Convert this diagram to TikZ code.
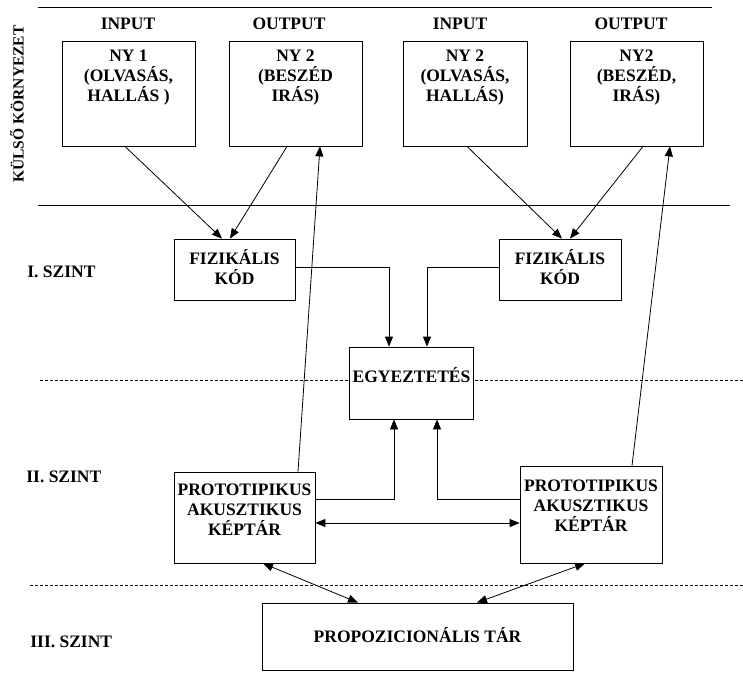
\documentclass[tikz,border=0pt]{standalone}
\usepackage{fontspec}
\setmainfont{Liberation Serif}
\usetikzlibrary{arrows.meta}
\begin{document}
\begin{tikzpicture}[x=1pt,y=-1pt,line width=0.8pt,
  box/.style={draw,fill=white,inner sep=0pt},
  txt/.style={font=\fontsize{17.5}{20}\selectfont\bfseries,align=center,inner sep=0pt},
  arr/.style={-{Triangle[length=10pt,width=8pt]}},
  darr/.style={{Triangle[length=10pt,width=8pt]}-{Triangle[length=10pt,width=8pt]}},
  lvl/.style={dash pattern=on 3pt off 2pt}]
\useasboundingbox (0,0) rectangle (743,672);

% level lines
\draw (38,7) -- (712,7);
\draw (38,205) -- (730,205);
\draw[lvl] (40,380) -- (743,380);
\draw[lvl] (30,585) -- (743,585);

% side labels
\node[txt, font=\fontsize{15.5}{18}\selectfont\bfseries, rotate=90] (kulso) at (17,104) {KÜLSŐ KÖRNYEZET};
\node[txt, anchor=west] (sz1) at (27,272) {I. SZINT};
\node[txt, anchor=west] (sz2) at (26,477) {II. SZINT};
\node[txt, anchor=west] (sz3) at (30,642) {III. SZINT};

\node[txt] (in1) at (128,24) {INPUT};
\node[txt] (out1) at (289,24) {OUTPUT};
\node[txt] (in2) at (460,24) {INPUT};
\node[txt] (out2) at (631,24) {OUTPUT};

% boxes
\node[box, minimum width=133, minimum height=105] (ny1) at (128.5,93.5) {};
\node[box, minimum width=133, minimum height=105] (ny2L) at (295.5,93.5) {};
\node[box, minimum width=124, minimum height=105] (ny2a) at (465,93.5) {};
\node[box, minimum width=133, minimum height=105] (ny2R) at (636.5,93.5) {};

\node[box, minimum width=121, minimum height=61] (fizL) at (234.5,269.5) {};
\node[box, minimum width=122, minimum height=61] (fizR) at (560,269.5) {};

\node[box, minimum width=124, minimum height=72] (egy) at (411.5,383) {};

\node[box, minimum width=141, minimum height=91] (protoL) at (244.5,517.5) {};
\node[box, minimum width=142, minimum height=97] (protoR) at (591,514.5) {};

\node[box, minimum width=311, minimum height=67] (prop) at (417.5,636.5) {};

% texts
\node[txt] (ny1t) at (128.5,78) {NY 1\\(OLVASÁS,\\HALLÁS )};
\node[txt] (ny2Lt) at (295.5,78) {NY 2\\(BESZÉD\\IRÁS)};
\node[txt] (ny2at) at (465,78) {NY 2\\(OLVASÁS,\\HALLÁS)};
\node[txt] (ny2Rt) at (636.5,78) {NY2\\(BESZÉD,\\IRÁS)};
\node[txt] (fizLt) at (234.5,267) {FIZIKÁLIS\\KÓD};
\node[txt] (fizRt) at (560,267) {FIZIKÁLIS\\KÓD};
\node[txt] (egyt) at (411.5,375) {EGYEZTETÉS};
\node[txt] (protoLt) at (244.5,510) {PROTOTIPIKUS\\AKUSZTIKUS\\KÉPTÁR};
\node[txt] (protoRt) at (591,506) {PROTOTIPIKUS\\AKUSZTIKUS\\KÉPTÁR};
\node[txt] (propt) at (417.5,635) {PROPOZICIONÁLIS TÁR};

% connectors
\draw[arr] ([xshift=-3.5pt]ny1.south) -- ([xshift=-12.5pt]fizL.north);
\draw[arr] ([xshift=-8.5pt]ny2L.south) -- ([xshift=-4.5pt]fizL.north);
\draw[arr] ([xshift=2pt]ny2a.south) -- ([xshift=2pt]fizR.north);
\draw[arr] ([xshift=6.5pt]ny2R.south) -- ([xshift=10pt]fizR.north);

\draw[arr] ([xshift=53.5pt]protoL.north) -- ([xshift=24.5pt]ny2L.south);
\draw[arr] ([xshift=41pt]protoR.north) -- ([xshift=33.5pt]ny2R.south);

\draw[arr] ([yshift=2.5pt]fizL.east) -| ([xshift=-22.5pt]egy.north);
\draw[arr] ([yshift=2.5pt]fizR.west) -| ([xshift=15.5pt]egy.north);
\draw[arr] ([yshift=18.5pt]protoL.east) -| ([xshift=-17.5pt]egy.south);
\draw[arr] ([yshift=15.5pt]protoR.west) -| ([xshift=25.5pt]egy.south);

\draw[darr] ([yshift=-5.5pt]protoL.east) -- ([yshift=-5.5pt]protoL.east -| protoR.west);

\draw[darr] ([xshift=18.5pt]protoL.south) -- ([xshift=-59.5pt]prop.north);
\draw[darr] ([xshift=-6pt]protoR.south) -- ([xshift=59.5pt]prop.north);

\end{tikzpicture}
\end{document}
